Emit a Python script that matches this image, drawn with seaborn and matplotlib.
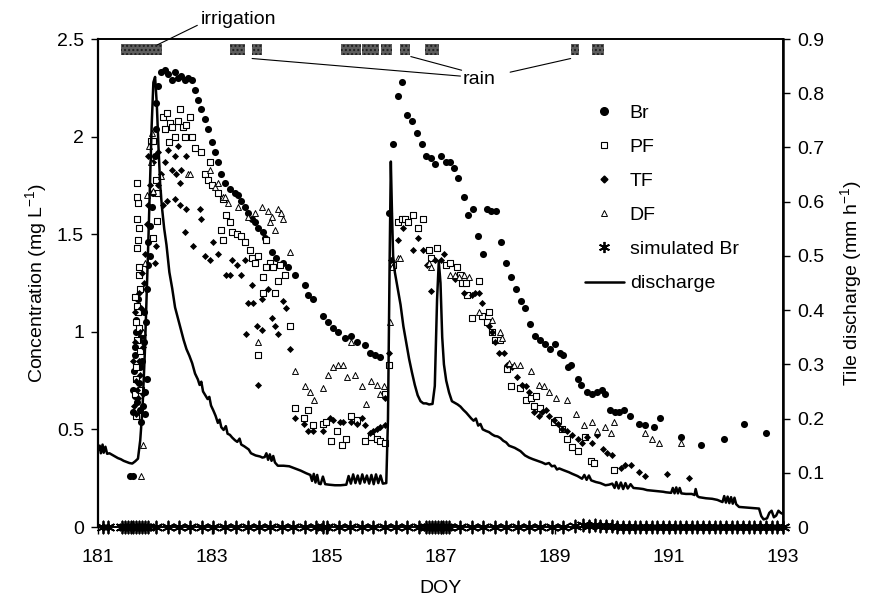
import numpy as np
import matplotlib
matplotlib.use("Agg")
import matplotlib.pyplot as plt
from matplotlib.lines import Line2D
from matplotlib.ticker import FuncFormatter
import seaborn as sns

# measured Br (filled circles)
br_doy = [181.56, 181.61, 181.61, 181.64, 181.67, 181.64, 181.70, 181.67, 181.70, 181.76,
          181.79, 181.82, 181.85, 181.73, 181.76, 181.80, 181.88, 181.91, 181.88, 181.91,
          181.94, 181.96, 181.99, 182.02, 182.02, 182.05, 182.11, 182.17, 182.23, 182.29,
          182.35, 182.40, 182.46, 182.52, 182.58, 182.64, 182.70, 182.75, 182.81, 182.87,
          182.93, 182.99, 183.05, 183.11, 183.16, 183.22, 183.31, 183.40, 183.46, 183.51,
          183.57, 183.63, 183.69, 183.75, 183.81, 183.89, 183.92, 184.04, 184.12, 184.24,
          184.33, 184.45, 184.62, 184.68, 184.77, 184.94, 185.03, 185.12, 185.21, 185.32,
          185.44, 185.53, 185.67, 185.76, 185.85, 185.94, 186.10, 186.17, 186.25, 186.32,
          186.41, 186.50, 186.58, 186.67, 186.74, 186.83, 186.91, 187.00, 187.09, 187.16,
          187.24, 187.31, 187.42, 187.49, 187.57, 187.66, 187.75, 187.82, 187.89, 187.97,
          188.06, 188.15, 188.23, 188.32, 188.41, 188.48, 188.57, 188.65, 188.74, 188.83,
          188.91, 189.00, 189.09, 189.14, 189.23, 189.28, 189.40, 189.47, 189.57, 189.66,
          189.75, 189.83, 189.89, 189.97, 190.06, 190.13, 190.22, 190.32, 190.48, 190.58,
          190.74, 190.84, 191.21, 191.57, 191.96, 192.32, 192.70,
          181.62, 181.63, 181.65, 181.66, 181.68, 181.69, 181.71, 181.74, 181.77, 181.81,
          181.84, 181.86, 181.83]
br_conc = [0.26, 0.26, 0.59, 0.67, 0.76, 0.88, 0.96, 1.06, 1.17, 0.54,
           0.62, 0.69, 0.76, 0.82, 0.98, 1.10, 1.34, 1.39, 1.46, 1.54,
           1.64, 1.71, 1.90, 2.04, 2.17, 2.26, 2.33, 2.34, 2.32, 2.29,
           2.33, 2.30, 2.31, 2.29, 2.30, 2.29, 2.24, 2.19, 2.14, 2.09,
           2.04, 1.97, 1.92, 1.87, 1.81, 1.76, 1.73, 1.71, 1.70, 1.67,
           1.64, 1.61, 1.58, 1.56, 1.53, 1.51, 1.48, 1.41, 1.38, 1.35,
           1.33, 1.29, 1.24, 1.19, 1.17, 1.08, 1.05, 1.02, 1.00, 0.97,
           0.98, 0.95, 0.93, 0.89, 0.88, 0.87, 1.61, 1.96, 2.21, 2.28,
           2.11, 2.08, 2.02, 1.96, 1.90, 1.89, 1.86, 1.90, 1.87, 1.87,
           1.84, 1.79, 1.69, 1.60, 1.63, 1.49, 1.40, 1.63, 1.62, 1.62,
           1.46, 1.35, 1.28, 1.22, 1.16, 1.12, 1.04, 0.98, 0.96, 0.94,
           0.91, 0.94, 0.89, 0.88, 0.82, 0.83, 0.76, 0.73, 0.69, 0.68,
           0.69, 0.70, 0.68, 0.60, 0.59, 0.59, 0.60, 0.57, 0.53, 0.52,
           0.51, 0.56, 0.46, 0.42, 0.45, 0.53, 0.48,
           0.70, 0.80, 0.92, 1.00, 0.64, 1.12, 0.74, 0.60, 0.85, 0.95,
           1.05, 1.22, 0.58]

# PF (open squares)
pf_doy = [181.66, 181.67, 181.68, 181.70, 181.68, 181.71, 181.72, 181.69, 181.70, 181.71,
          181.69, 181.70, 181.69, 181.69, 181.74, 181.72, 181.75, 181.97, 182.04, 181.92,
          181.96, 182.14, 182.26, 182.43, 182.61, 182.49, 182.35, 182.17, 182.52, 182.64,
          182.20, 182.30, 182.40, 182.55, 182.25, 182.02, 182.05, 182.70, 182.81, 182.96,
          182.87, 182.93, 182.99, 183.11, 183.19, 183.25, 183.31, 183.16, 183.19, 183.34,
          183.43, 183.51, 183.57, 183.66, 183.69, 183.75, 183.81, 183.89, 183.89, 183.81,
          183.95, 184.01, 184.07, 184.18, 184.27, 183.95, 184.15, 184.10, 184.36, 184.45,
          184.68, 184.61, 184.77, 184.94, 185.00, 185.09, 185.18, 185.27, 185.35, 185.44,
          185.53, 185.67, 185.79, 185.88, 185.94, 186.03, 186.03, 186.10, 186.17, 186.26,
          186.32, 186.38, 186.43, 186.52, 186.61, 186.70, 186.79, 186.84, 186.93, 187.09,
          187.17, 187.29, 187.35, 187.38, 187.44, 187.67, 187.47, 187.55, 187.73, 187.85,
          187.82, 187.91, 187.96, 188.05, 188.17, 188.23, 188.40, 188.49, 188.58, 188.64,
          188.67, 188.75, 188.99, 189.05, 189.13, 189.22, 189.31, 189.40, 189.54, 189.63,
          189.69, 190.04,
          181.64, 181.66, 181.67, 181.73, 181.64]
pf_conc = [0.57, 0.82, 0.96, 1.10, 1.13, 1.29, 1.33, 1.43, 1.47, 1.53,
           1.58, 1.66, 1.69, 1.76, 0.90, 1.02, 0.70, 1.48, 1.57, 1.98,
           1.98, 2.10, 2.07, 2.14, 2.10, 2.05, 2.00, 2.04, 2.00, 2.00,
           2.12, 2.05, 2.08, 2.06, 1.97, 1.78, 1.71, 1.94, 1.92, 1.87,
           1.81, 1.78, 1.75, 1.71, 1.68, 1.60, 1.56, 1.52, 1.47, 1.51,
           1.50, 1.49, 1.46, 1.42, 1.38, 1.35, 1.39, 1.28, 1.20, 0.88,
           1.47, 1.35, 1.33, 1.34, 1.29, 1.33, 1.26, 1.20, 1.03, 0.61,
           0.60, 0.56, 0.52, 0.53, 0.54, 0.44, 0.49, 0.42, 0.45, 0.57,
           0.55, 0.44, 0.46, 0.45, 0.44, 0.43, 0.68, 0.83, 1.34, 1.56,
           1.58, 1.58, 1.56, 1.60, 1.53, 1.58, 1.42, 1.38, 1.43, 1.34,
           1.35, 1.33, 1.29, 1.25, 1.25, 1.26, 1.19, 1.07, 1.08, 1.10,
           1.05, 1.00, 0.96, 0.96, 0.81, 0.72, 0.71, 0.65, 0.66, 0.62,
           0.67, 0.61, 0.54, 0.55, 0.50, 0.45, 0.41, 0.39, 0.46, 0.34,
           0.33, 0.29,
           0.68, 0.76, 1.05, 1.22, 1.18]

# TF (small filled diamonds)
tf_doy = [181.63, 181.64, 181.66, 181.68, 181.71, 181.73, 181.76, 181.78, 181.78, 181.80,
          181.83, 181.86, 181.88, 181.91, 181.88, 181.96, 182.11, 182.17, 182.29, 182.37,
          182.46, 182.35, 182.05, 182.22, 182.40, 182.55, 182.43, 182.35, 182.43, 182.55,
          182.52, 182.67, 182.78, 182.81, 182.87, 182.96, 183.02, 183.11, 183.25, 183.31,
          183.34, 183.43, 183.51, 183.57, 183.69, 183.63, 183.72, 183.78, 183.60, 183.87,
          183.81, 183.87, 182.14, 182.20, 182.05, 182.02, 181.99, 183.98, 184.04, 184.10,
          184.15, 184.24, 184.30, 184.36, 184.45, 184.61, 184.68, 184.77, 184.94, 185.06,
          185.12, 185.24, 185.29, 185.44, 185.53, 185.62, 185.67, 185.76, 185.82, 185.88,
          185.94, 186.03, 186.03, 186.10, 186.14, 186.26, 186.35, 186.52, 186.61, 186.70,
          186.76, 186.84, 186.90, 187.00, 187.06, 187.26, 187.41, 187.55, 187.61, 187.67,
          187.73, 187.85, 187.91, 187.96, 188.02, 188.11, 188.17, 188.26, 188.34, 188.43,
          188.49, 188.55, 188.64, 188.72, 188.78, 188.84, 188.90, 188.99, 189.05, 189.13,
          189.22, 189.31, 189.40, 189.48, 189.57, 189.66, 189.75, 189.84, 189.92, 190.01,
          190.16, 190.24, 190.33, 190.48, 190.59, 190.97, 191.35,
          181.62, 181.65, 181.67, 181.70, 181.72, 181.74, 181.77]
tf_conc = [0.62, 0.95, 0.75, 0.70, 0.85, 1.00, 1.12, 0.92, 0.68, 1.25,
           1.40, 1.55, 1.65, 1.75, 1.90, 1.87, 1.81, 1.87, 1.83, 1.81,
           1.83, 1.90, 1.92, 1.93, 1.95, 1.90, 1.76, 1.68, 1.65, 1.63,
           1.51, 1.44, 1.63, 1.58, 1.39, 1.37, 1.46, 1.40, 1.29, 1.29,
           1.37, 1.34, 1.29, 1.37, 1.24, 1.15, 1.15, 1.03, 0.99, 1.01,
           0.73, 1.17, 1.65, 1.67, 1.75, 1.44, 1.35, 1.22, 1.07, 1.03,
           0.99, 1.16, 1.12, 0.91, 0.56, 0.53, 0.49, 0.49, 0.49, 0.56,
           0.55, 0.54, 0.54, 0.54, 0.53, 0.56, 0.52, 0.48, 0.49, 0.50,
           0.51, 0.52, 0.66, 0.89, 1.37, 1.47, 1.53, 1.42, 1.48, 1.42,
           1.34, 1.21, 1.37, 1.37, 1.40, 1.27, 1.20, 1.19, 1.20, 1.20,
           1.15, 1.03, 1.00, 0.95, 0.89, 0.89, 0.83, 0.82, 0.77, 0.73,
           0.72, 0.69, 0.59, 0.57, 0.59, 0.60, 0.57, 0.55, 0.53, 0.50,
           0.49, 0.47, 0.45, 0.43, 0.46, 0.43, 0.47, 0.40, 0.38, 0.37,
           0.30, 0.32, 0.32, 0.28, 0.26, 0.27, 0.25,
           0.85, 1.10, 0.58, 0.66, 1.20, 0.78, 1.30]

# DF (small open triangles)
df_doy = [181.76, 181.79, 181.78, 181.82, 181.86, 181.90, 181.95, 181.92, 181.96, 182.11,
          182.58, 182.62, 182.96, 183.05, 183.11, 183.19, 183.23, 183.28, 183.46, 183.63,
          183.75, 183.87, 183.81, 183.98, 184.04, 184.10, 184.15, 184.21, 184.24, 184.01,
          184.36, 184.45, 184.62, 184.71, 184.79, 184.94, 185.03, 185.12, 185.21, 185.29,
          185.37, 185.50, 185.62, 185.70, 185.79, 185.88, 185.94, 186.01, 185.44, 186.11,
          186.15, 186.25, 186.29, 186.79, 186.84, 187.17, 187.26, 187.32, 187.41, 187.50,
          187.67, 187.91, 188.05, 188.08, 188.20, 188.29, 188.40, 188.58, 188.72, 188.81,
          188.90, 189.02, 189.22, 189.37, 189.51, 189.66, 189.75, 189.89, 189.98, 190.04,
          190.59, 190.71, 190.83, 191.21]
df_conc = [0.26, 0.42, 1.00, 1.35, 1.70, 1.95, 2.02, 1.87, 1.72, 1.80,
           1.81, 1.81, 1.83, 1.74, 1.76, 1.69, 1.69, 1.66, 1.64, 1.59,
           1.61, 1.64, 0.95, 1.62, 1.59, 1.52, 1.63, 1.61, 1.58, 1.56,
           1.41, 0.80, 0.72, 0.69, 0.65, 0.71, 0.78, 0.82, 0.83, 0.83,
           0.77, 0.78, 0.72, 0.63, 0.75, 0.73, 0.68, 0.72, 0.95, 1.05,
           1.33, 1.38, 1.38, 1.35, 1.33, 1.29, 1.29, 1.28, 1.29, 1.28,
           1.10, 1.06, 1.00, 0.97, 0.84, 0.83, 0.83, 0.80, 0.73, 0.72,
           0.69, 0.66, 0.65, 0.58, 0.52, 0.54, 0.49, 0.51, 0.48, 0.54,
           0.48, 0.45, 0.43, 0.43]

# simulated Br (asterisks along zero)
sim_doy = [181.08, 181.18, 181.42, 181.47, 181.52, 181.57, 181.62, 181.67, 181.72, 181.77,
           181.82, 181.88, 182.02, 182.22, 182.42, 182.62, 182.82, 183.02, 183.22, 183.42,
           183.62, 183.82, 184.02, 184.22, 184.42, 184.62, 184.82, 184.95, 185.02, 185.22,
           185.42, 185.62, 185.82, 186.02, 186.22, 186.42, 186.62, 186.75, 186.80, 186.85,
           186.90, 186.95, 187.00, 187.05, 187.10, 187.15, 187.35, 187.55, 187.75, 187.95,
           188.15, 188.35, 188.55, 188.75, 188.95, 189.15, 189.35, 189.50, 189.60, 189.70,
           189.80, 189.90, 190.00, 190.10, 190.20, 190.30, 190.40, 190.50, 190.60, 190.70,
           190.80, 190.90, 191.00, 191.10, 191.20, 191.30, 191.40, 191.50, 191.60, 191.70,
           191.80, 191.90, 192.00, 192.10, 192.20, 192.30, 192.40, 192.50, 192.60, 192.70,
           192.80, 192.90, 193.00]
sim_conc = [0.0, 0.0, 0.0, 0.0, 0.0, 0.0, 0.0, 0.0, 0.0, 0.0,
            0.0, 0.0, 0.0, 0.0, 0.0, 0.0, 0.0, 0.0, 0.0, 0.0,
            0.0, 0.0, 0.0, 0.0, 0.0, 0.0, 0.0, 0.0, 0.0, 0.0,
            0.0, 0.0, 0.0, 0.0, 0.0, 0.0, 0.0, 0.0, 0.0, 0.0,
            0.0, 0.0, 0.0, 0.0, 0.0, 0.0, 0.0, 0.0, 0.0, 0.0,
            0.0, 0.0, 0.0, 0.0, 0.0, 0.0, 0.005, 0.008, 0.005, 0.008,
            0.005, 0.005, 0.005, 0.0, 0.0, 0.0, 0.0, 0.0, 0.0, 0.0,
            0.0, 0.0, 0.0, 0.0, 0.0, 0.0, 0.0, 0.0, 0.0, 0.0,
            0.0, 0.0, 0.0, 0.0, 0.0, 0.0, 0.0, 0.0, 0.0, 0.0,
            0.0, 0.0, 0.0]

# tile discharge (right axis)
dis_doy = [181.00, 181.03, 181.05, 181.08, 181.10, 181.13, 181.16, 181.20, 181.25, 181.30,
           181.35, 181.40, 181.45, 181.50, 181.55, 181.60, 181.65, 181.70, 181.74, 181.78,
           181.82, 181.85, 181.88, 181.91, 181.94, 181.97, 182.00, 182.03, 182.06, 182.09,
           182.12, 182.16, 182.20, 182.25, 182.30, 182.35, 182.40, 182.45, 182.50, 182.55,
           182.60, 182.65, 182.70, 182.75, 182.78, 182.81, 182.84, 182.88, 182.92, 182.95,
           182.98, 183.02, 183.06, 183.10, 183.13, 183.16, 183.20, 183.24, 183.27, 183.31,
           183.35, 183.40, 183.44, 183.48, 183.51, 183.56, 183.60, 183.64, 183.68, 183.72,
           183.76, 183.80, 183.84, 183.88, 183.92, 183.95, 183.98, 184.01, 184.04, 184.07,
           184.10, 184.15, 184.25, 184.35, 184.45, 184.55, 184.65, 184.72, 184.75, 184.78,
           184.81, 184.84, 184.87, 184.90, 184.94, 184.98, 185.05, 185.15, 185.25, 185.35,
           185.39, 185.43, 185.47, 185.51, 185.55, 185.59, 185.63, 185.67, 185.71, 185.75,
           185.79, 185.83, 185.87, 185.91, 185.95, 185.99, 186.05, 186.08, 186.11, 186.13,
           186.15, 186.17, 186.20, 186.25, 186.30, 186.35, 186.40, 186.45, 186.50, 186.55,
           186.60, 186.65, 186.70, 186.75, 186.80, 186.86, 186.90, 186.94, 186.97, 187.00,
           187.03, 187.06, 187.10, 187.15, 187.20, 187.25, 187.30, 187.35, 187.40, 187.45,
           187.50, 187.54, 187.58, 187.62, 187.66, 187.70, 187.74, 187.80, 187.85, 187.90,
           187.95, 188.00, 188.05, 188.10, 188.15, 188.20, 188.30, 188.40, 188.48, 188.55,
           188.62, 188.70, 188.78, 188.84, 188.90, 188.95, 189.00, 189.04, 189.08, 189.15,
           189.25, 189.31, 189.40, 189.48, 189.52, 189.56, 189.60, 189.64, 189.72, 189.80,
           189.89, 189.95, 190.01, 190.05, 190.08, 190.12, 190.16, 190.20, 190.24, 190.28,
           190.33, 190.38, 190.48, 190.55, 190.62, 190.71, 190.80, 190.90, 190.95, 191.04,
           191.07, 191.10, 191.13, 191.16, 191.19, 191.22, 191.30, 191.40, 191.45, 191.47,
           191.50, 191.53, 191.65, 191.76, 191.85, 191.94, 191.97, 192.00, 192.03, 192.06,
           192.09, 192.12, 192.15, 192.18, 192.23, 192.35, 192.45, 192.58, 192.62, 192.66,
           192.72, 192.76, 192.80, 192.84, 192.88, 192.92, 192.96, 193.00]
dis_q = [0.141, 0.150, 0.136, 0.152, 0.137, 0.148, 0.135, 0.136, 0.133, 0.130,
         0.127, 0.125, 0.122, 0.120, 0.118, 0.117, 0.121, 0.126, 0.160, 0.220,
         0.320, 0.420, 0.520, 0.630, 0.740, 0.820, 0.830, 0.780, 0.700, 0.630,
         0.590, 0.550, 0.520, 0.470, 0.440, 0.405, 0.385, 0.365, 0.345, 0.328,
         0.316, 0.302, 0.283, 0.272, 0.262, 0.268, 0.250, 0.243, 0.236, 0.240,
         0.224, 0.215, 0.205, 0.192, 0.198, 0.184, 0.179, 0.186, 0.172, 0.170,
         0.165, 0.160, 0.157, 0.163, 0.152, 0.149, 0.146, 0.143, 0.136, 0.134,
         0.132, 0.131, 0.130, 0.128, 0.129, 0.136, 0.124, 0.134, 0.122, 0.131,
         0.119, 0.113, 0.113, 0.112, 0.108, 0.104, 0.099, 0.096, 0.085, 0.098,
         0.082, 0.096, 0.080, 0.079, 0.093, 0.079, 0.078, 0.077, 0.077, 0.078,
         0.094, 0.080, 0.097, 0.081, 0.095, 0.080, 0.097, 0.082, 0.095, 0.080,
         0.096, 0.079, 0.097, 0.081, 0.095, 0.080, 0.081, 0.200, 0.500, 0.674,
         0.580, 0.500, 0.470, 0.440, 0.410, 0.370, 0.340, 0.310, 0.285, 0.262,
         0.243, 0.232, 0.228, 0.228, 0.226, 0.227, 0.260, 0.420, 0.490, 0.450,
         0.350, 0.300, 0.270, 0.248, 0.232, 0.229, 0.226, 0.222, 0.216, 0.211,
         0.205, 0.200, 0.196, 0.200, 0.187, 0.190, 0.180, 0.177, 0.175, 0.171,
         0.168, 0.167, 0.164, 0.159, 0.156, 0.150, 0.146, 0.140, 0.132, 0.128,
         0.125, 0.122, 0.119, 0.116, 0.118, 0.112, 0.113, 0.106, 0.108, 0.105,
         0.101, 0.098, 0.094, 0.089, 0.096, 0.087, 0.095, 0.086, 0.083, 0.081,
         0.077, 0.078, 0.080, 0.072, 0.083, 0.071, 0.082, 0.070, 0.081, 0.071,
         0.079, 0.072, 0.071, 0.070, 0.068, 0.067, 0.066, 0.065, 0.064, 0.063,
         0.072, 0.062, 0.073, 0.062, 0.072, 0.062, 0.061, 0.061, 0.059, 0.070,
         0.057, 0.055, 0.053, 0.052, 0.050, 0.046, 0.057, 0.045, 0.056, 0.044,
         0.055, 0.043, 0.054, 0.042, 0.037, 0.036, 0.035, 0.034, 0.020, 0.014,
         0.016, 0.026, 0.030, 0.018, 0.021, 0.030, 0.026, 0.024]

# irrigation and rain periods (DOY start / end)
irrig_start = [181.41]
irrig_end = [182.12]
rain_start = [183.31, 183.69, 185.26, 185.63, 185.95, 186.29, 186.73, 189.28, 189.66]
rain_end = [183.57, 183.88, 185.60, 185.92, 186.15, 186.47, 186.97, 189.43, 189.86]

x_ticks = [181, 183, 185, 187, 189, 191, 193]
conc_ticks = [0, 0.5, 1, 1.5, 2, 2.5]
q_ticks = [0, 0.1, 0.2, 0.3, 0.4, 0.5, 0.6, 0.7, 0.8, 0.9]
legend_labels = ['Br', 'PF', 'TF', 'DF', 'simulated Br', 'discharge']

sns.set_theme(style="ticks")
plt.rcParams['font.family'] = ['Liberation Sans', 'DejaVu Sans']
plt.rcParams['mathtext.default'] = 'regular'
for key in ['text.color', 'axes.labelcolor', 'xtick.color', 'ytick.color', 'axes.edgecolor']:
    plt.rcParams[key] = 'black'
FS = 14

fig = plt.figure(figsize=(8.71, 6.11), dpi=100)
ax = fig.add_axes([98 / 871, 1 - 527 / 611, 685 / 871, 488 / 611])

# event bars at the top
period_start = irrig_start + rain_start
period_end = irrig_end + rain_end
centers = [(s + e) / 2 for s, e in zip(period_start, period_end)]
widths = [e - s for s, e in zip(period_start, period_end)]
ax.bar(centers, [0.055] * len(centers), width=widths, bottom=2.42,
       color='#5e5e5e', edgecolor='#1e1e1e', hatch='....', linewidth=0, zorder=2)

sns.scatterplot(x=br_doy, y=br_conc, ax=ax, marker='o', s=26, color='black',
                edgecolor='black', linewidth=0, zorder=3)
sns.scatterplot(x=pf_doy, y=pf_conc, ax=ax, marker='s', s=20, color='black',
                linewidth=0.8, zorder=3)
ax.collections[-1].set_facecolor('white')
ax.collections[-1].set_edgecolor('black')
sns.scatterplot(x=tf_doy, y=tf_conc, ax=ax, marker='D', s=13, color='black',
                edgecolor='black', linewidth=0, zorder=3)
sns.scatterplot(x=df_doy, y=df_conc, ax=ax, marker='^', s=18, color='black',
                linewidth=0.7, zorder=3)
ax.collections[-1].set_facecolor('white')
ax.collections[-1].set_edgecolor('black')
sns.scatterplot(x=sim_doy, y=sim_conc, ax=ax, marker=(6, 2, 0), s=75, color='black',
                linewidth=1.3, zorder=4, clip_on=False)
ax.collections[-1].set_edgecolor('black')

ax.set_xlim(181, 193)
ax.set_ylim(0, 2.5)
ax.set_xticks(x_ticks)
ax.set_yticks(conc_ticks)
fmt = FuncFormatter(lambda v, p: f'{v:g}')
ax.yaxis.set_major_formatter(fmt)
ax.set_xlabel('DOY', fontsize=FS, labelpad=10)
ax.set_ylabel('Concentration (mg L$^{-1}$)', fontsize=FS, labelpad=6)

ax2 = ax.twinx()
sns.lineplot(x=dis_doy, y=dis_q, ax=ax2, color='black', linewidth=1.8,
             estimator=None, sort=False)
ax2.set_ylim(0, 0.9)
ax2.set_yticks(q_ticks)
ax2.yaxis.set_major_formatter(fmt)
ax2.set_ylabel('Tile discharge (mm h$^{-1}$)', fontsize=FS, labelpad=10)

for a in (ax, ax2):
    a.tick_params(labelsize=FS, direction='out', length=5, width=1, pad=5, color='black')
    for sp in a.spines.values():
        sp.set_color('black')
        sp.set_linewidth(1.2)
ax.tick_params(axis='x', pad=11)
ax2.spines['right'].set_linewidth(1.8)
ax.spines['left'].set_linewidth(1.6)

# annotations
ax.text(183.47, 2.60, 'irrigation', fontsize=FS, ha='center', va='center')
ax.plot([182.74, 182.04], [2.57, 2.47], color='black', lw=0.8, clip_on=False)
ax.text(187.68, 2.29, 'rain', fontsize=FS, ha='center', va='center')
ax.plot([187.35, 183.70], [2.31, 2.40], color='black', lw=0.8)
ax.plot([187.37, 186.48], [2.34, 2.41], color='black', lw=0.8)
ax.plot([188.22, 189.28], [2.33, 2.40], color='black', lw=0.8)

handles = [
    Line2D([], [], ls='none', marker='o', ms=5.5, mfc='black', mec='black'),
    Line2D([], [], ls='none', marker='s', ms=5, mfc='white', mec='black', mew=0.8),
    Line2D([], [], ls='none', marker='D', ms=3.5, mfc='black', mec='black'),
    Line2D([], [], ls='none', marker='^', ms=4.5, mfc='white', mec='black', mew=0.7),
    Line2D([], [], ls='none', marker=(6, 2, 0), ms=8, color='black', mew=1.3),
    Line2D([], [], color='black', lw=1.8),
]
ax2.legend(handles, legend_labels, loc='upper left',
           bbox_to_anchor=(585 / 871, 1 - 104 / 611), bbox_transform=fig.transFigure,
           frameon=False, fontsize=FS, handlelength=2.0, handletextpad=0.3,
           labelspacing=0.85, borderpad=0, borderaxespad=0)

fig.savefig('out.png', dpi=100)
